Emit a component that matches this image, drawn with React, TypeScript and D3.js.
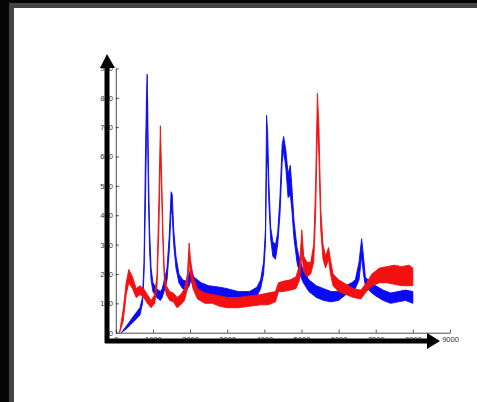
import React, { useEffect, useRef } from 'react';
import * as d3 from 'd3';

// blue spectrum: position, lower and upper edge of the noisy trace
const blueX = [150, 300, 500, 650, 720, 760, 800, 830, 845, 860, 880, 910, 950, 1000, 1100, 1200, 1250, 1300, 1380, 1440, 1490, 1520, 1560, 1620, 1700, 1800, 1900, 1980, 2020, 2100, 2300, 2500, 2800, 3000, 3300, 3600, 3800, 3900, 3980, 4030, 4060, 4090, 4120, 4170, 4230, 4300, 4360, 4420, 4480, 4520, 4580, 4640, 4700, 4740, 4800, 4880, 4950, 5050, 5200, 5400, 5600, 5800, 6000, 6200, 6350, 6450, 6550, 6620, 6670, 6720, 6850, 7000, 7200, 7400, 7600, 7800, 8000];
const blueLo = [0, 15, 40, 60, 100, 200, 450, 700, 800, 650, 450, 280, 180, 140, 120, 110, 120, 140, 180, 280, 420, 400, 300, 220, 170, 150, 145, 160, 180, 150, 135, 125, 120, 115, 110, 115, 125, 150, 200, 300, 550, 600, 450, 320, 260, 250, 300, 400, 580, 620, 560, 460, 470, 420, 320, 240, 200, 170, 140, 120, 110, 105, 110, 130, 140, 150, 180, 260, 200, 160, 140, 125, 110, 100, 105, 110, 100];
const blueHi = [0, 25, 60, 85, 120, 240, 620, 820, 880, 760, 550, 350, 220, 170, 150, 140, 150, 175, 220, 330, 480, 470, 350, 260, 200, 180, 175, 200, 220, 190, 170, 160, 155, 150, 140, 140, 155, 180, 240, 350, 740, 680, 520, 360, 310, 300, 340, 460, 640, 668, 620, 540, 570, 500, 380, 290, 250, 210, 180, 160, 150, 140, 140, 160, 170, 180, 240, 320, 260, 190, 170, 160, 145, 135, 140, 145, 140];

// red spectrum
const redX = [100, 200, 280, 350, 450, 550, 650, 750, 850, 950, 1050, 1110, 1160, 1200, 1230, 1270, 1310, 1360, 1450, 1550, 1650, 1750, 1850, 1930, 1975, 2010, 2080, 2200, 2400, 2600, 2800, 3000, 3300, 3600, 3900, 4100, 4300, 4380, 4500, 4700, 4850, 4950, 5010, 5060, 5150, 5250, 5330, 5380, 5430, 5470, 5520, 5580, 5650, 5730, 5780, 5850, 6000, 6200, 6400, 6600, 6750, 6900, 7100, 7300, 7500, 7700, 7900, 8000];
const redLo = [0, 40, 130, 170, 150, 120, 130, 120, 100, 85, 100, 160, 350, 600, 500, 300, 170, 130, 110, 105, 85, 95, 110, 150, 250, 200, 150, 115, 100, 100, 90, 85, 85, 90, 95, 95, 105, 140, 140, 145, 150, 180, 270, 210, 190, 200, 240, 400, 700, 600, 350, 250, 220, 250, 200, 160, 140, 130, 120, 115, 140, 160, 170, 170, 165, 160, 160, 160];
const redHi = [0, 80, 170, 215, 190, 150, 160, 150, 130, 110, 130, 200, 450, 705, 560, 340, 200, 160, 140, 135, 120, 130, 150, 200, 305, 250, 190, 150, 135, 130, 125, 120, 120, 125, 130, 135, 140, 170, 175, 180, 190, 230, 350, 260, 240, 240, 300, 500, 815, 700, 420, 300, 260, 290, 250, 200, 180, 165, 150, 145, 170, 200, 220, 225, 230, 225, 230, 220];

const xTicks = [0, 1000, 2000, 3000, 4000, 5000, 6000, 7000, 8000, 9000];
const yTicks = [0, 100, 200, 300, 400, 500, 600, 700, 800, 900];

const App = () => {
    const svgRef = useRef(null);

    useEffect(() => {
        const svg = d3.select(svgRef.current);
        svg.selectAll('*').remove();

        // frame
        svg.append('rect').attr('x', 0).attr('y', 0).attr('width', 477).attr('height', 402).attr('fill', '#050505');
        svg.append('rect').attr('x', 9).attr('y', 3).attr('width', 468).attr('height', 399).attr('fill', '#444');
        svg.append('rect').attr('x', 14).attr('y', 8).attr('width', 463).attr('height', 394).attr('fill', '#fff');

        const x = d3.scaleLinear().domain([0, 9000]).range([115.8, 450]);
        const y = d3.scaleLinear().domain([0, 900]).range([332.7, 68.4]);

        const g = svg.append('g');

        // matlab style axes
        const ax = g.append('g').attr('transform', `translate(0,${y(0)})`)
            .call(d3.axisBottom(x).tickValues(xTicks).tickFormat(d3.format('d')).tickSizeInner(-3).tickSizeOuter(0).tickPadding(4));
        const ay = g.append('g').attr('transform', `translate(${x(0)},0)`)
            .call(d3.axisLeft(y).tickValues(yTicks).tickFormat(d3.format('d')).tickSizeInner(-3).tickSizeOuter(0).tickPadding(3));
        [ax, ay].forEach(a => {
            a.select('.domain').attr('stroke', '#222').attr('stroke-width', 0.8);
            a.selectAll('line').attr('stroke', '#222').attr('stroke-width', 0.8);
            a.selectAll('text').attr('fill', '#333').style('font-family', '"Liberation Sans", Arial, sans-serif').style('font-size', '7.5px');
        });

        const drawSeries = (xs, lo, hi, color) => {
            const pts = xs.map((v, i) => ({ v, lo: lo[i], hi: hi[i] }));
            const area = d3.area().x(d => x(d.v)).y0(d => y(d.lo)).y1(d => y(d.hi));
            g.append('path').datum(pts).attr('d', area).attr('fill', color)
                .attr('stroke', color).attr('stroke-width', 0.9).attr('stroke-linejoin', 'round');
        };
        drawSeries(blueX, blueLo, blueHi, '#0a0af5');
        drawSeries(redX, redLo, redHi, '#f21010');

        // thick arrow axes on top
        g.append('line').attr('x1', 107).attr('y1', 64).attr('x2', 107).attr('y2', 343)
            .attr('stroke', '#000').attr('stroke-width', 5);
        g.append('line').attr('x1', 105).attr('y1', 341).attr('x2', 430).attr('y2', 341)
            .attr('stroke', '#000').attr('stroke-width', 5);
        g.append('path').attr('d', 'M100,68 L107,54 L115,68 Z').attr('fill', '#000');
        g.append('path').attr('d', 'M427,333 L440,341 L427,349 Z').attr('fill', '#000');
    }, []);

    return (
        <svg ref={svgRef} width={477} height={402} style={{ position: 'absolute', left: 0, top: 0 }} />
    );
};

export default App;
